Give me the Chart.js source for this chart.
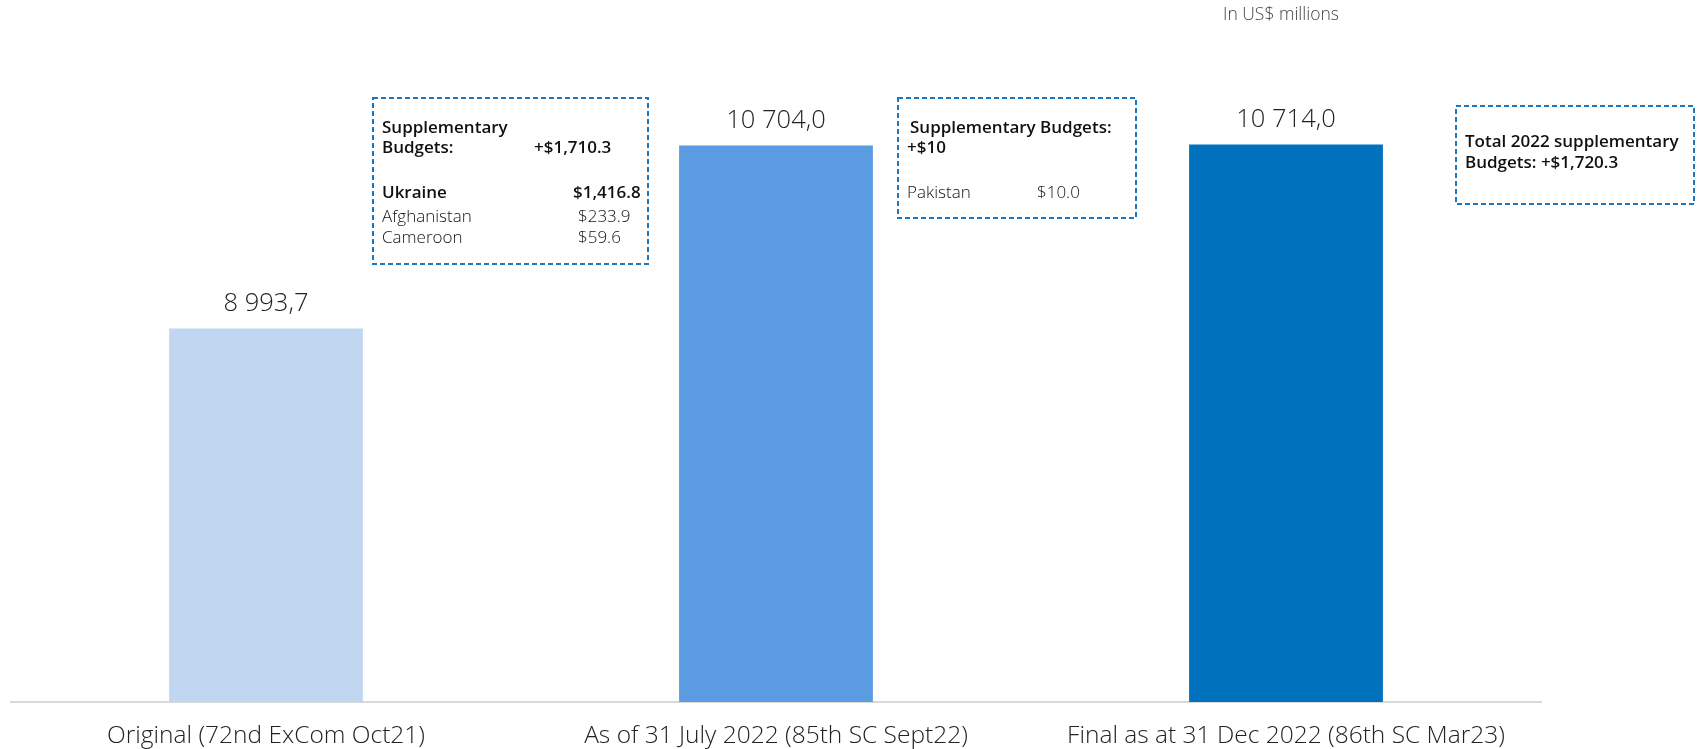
<!DOCTYPE html>
<html>
<head>
<meta charset="utf-8">
<script src="https://cdn.jsdelivr.net/npm/chart.js@4.4.0/dist/chart.umd.min.js"></script>
<style>
    html, body { margin: 0; padding: 0; background: #fff; }
    #wrap { width: 1698px; height: 749px; }
</style>
</head>
<body>
<div id="wrap"><canvas id="chart1" width="1698" height="749"></canvas></div>
<script>
/* Datos */
var categories = ['Original (72nd ExCom Oct21)', 'As of 31 July 2022 (85th SC Sept22)', 'Final as at 31 Dec 2022 (86th SC Mar23)'];
var budgetValues = [8993.7, 10704.0, 10714.0];
var unitNote = 'In US$ millions';

/* Notas (texto) */
var julyNoteLabels = ['Supplementary', 'Budgets:', 'Ukraine', 'Afghanistan', 'Cameroon'];
var julyNoteValues = ['', '+$1,710.3', '$1,416.8', '$233.9', '$59.6'];
var decNoteLabels = ['Supplementary Budgets:', '+$10', 'Pakistan'];
var decNoteValues = ['', '', '$10.0'];
var totalNoteLines = ['Total 2022 supplementary', 'Budgets: +$1,720.3'];

var barColors = ['#c1d7f1', '#5a9be2', '#0071bc'];
var FONT = '"Open Sans", Lato, sans-serif';

function fmt(v) {
    var s = v.toFixed(1).split('.');
    return s[0].replace(/\B(?=(\d{3})+(?!\d))/g, ' ') + ',' + s[1];
}

function dashedBox(ctx, x, y, w, h) {
    ctx.save();
    ctx.strokeStyle = '#1a78c2';
    ctx.lineWidth = 2;
    ctx.setLineDash([5, 3]);
    ctx.strokeRect(x, y, w, h);
    ctx.restore();
}

function txt(ctx, s, x, y, weight, size, color, align) {
    ctx.font = weight + ' ' + size + 'px ' + FONT;
    ctx.fillStyle = color;
    ctx.textAlign = align || 'left';
    ctx.textBaseline = 'middle';
    ctx.fillText(s, x, y);
}

var labelsPlugin = {
    id: 'labels',
    afterDatasetsDraw: function (chart) {
        var ctx = chart.ctx;
        var meta = chart.getDatasetMeta(0);
        ctx.save();
        meta.data.forEach(function (bar, i) {
            txt(ctx, fmt(budgetValues[i]), bar.x, bar.y - 25, 300, 25.5, '#222', 'center');
        });
        ctx.restore();
    },
    afterDraw: function (chart) {
        var ctx = chart.ctx;
        ctx.save();
        txt(ctx, unitNote, 1223, 15, 300, 17.5, '#444');

        /* Nota julio */
        dashedBox(ctx, 373, 98, 275, 166);
        var ys1 = [128, 148, 193, 217, 238];
        var w1 = [600, 600, 600, 300, 300];
        var vx1 = [534, 534, 573, 578, 578];
        for (var i = 0; i < julyNoteLabels.length; i++) {
            txt(ctx, julyNoteLabels[i], 382, ys1[i], w1[i], 17, '#111');
            txt(ctx, julyNoteValues[i], vx1[i], ys1[i], w1[i], 17, '#111');
        }

        /* Nota diciembre */
        dashedBox(ctx, 898, 98, 238, 120);
        var ys2 = [128, 148, 193];
        var w2 = [600, 600, 300];
        for (var j = 0; j < decNoteLabels.length; j++) {
            txt(ctx, decNoteLabels[j], j == 0 ? 910 : 907, ys2[j], w2[j], 17, '#111');
            txt(ctx, decNoteValues[j], 1037, ys2[j], w2[j], 17, '#111');
        }

        /* Total */
        dashedBox(ctx, 1456, 106, 238, 98);
        txt(ctx, totalNoteLines[0], 1465, 142, 600, 17, '#111');
        txt(ctx, totalNoteLines[1], 1465, 163, 600, 17, '#111');
        ctx.restore();
    }
};

var ctx1 = document.getElementById('chart1').getContext('2d');
var myChart = new Chart(ctx1, {
    type: 'bar',
    data: {
        labels: categories,
        datasets: [{
            data: budgetValues,
            backgroundColor: barColors,
            borderWidth: 0,
            barPercentage: 0.38,
            categoryPercentage: 1
        }]
    },
    options: {
        responsive: false,
        animation: false,
        layout: { padding: { left: 11, right: 157, top: 7, bottom: 0 } },
        plugins: {
            legend: { display: false },
            tooltip: { enabled: false }
        },
        scales: {
            x: {
                grid: { display: false, drawTicks: false },
                border: { display: true, color: '#d9d9d9', width: 2 },
                ticks: {
                    color: '#222',
                    padding: 19,
                    maxRotation: 0,
                    autoSkip: false,
                    font: { family: FONT, size: 24.5, weight: 300 }
                },
                afterFit: function (scale) { scale.height = 47; }
            },
            y: { display: false, min: 5500, max: 12000 }
        }
    },
    plugins: [labelsPlugin]
});
</script>
</body>
</html>
